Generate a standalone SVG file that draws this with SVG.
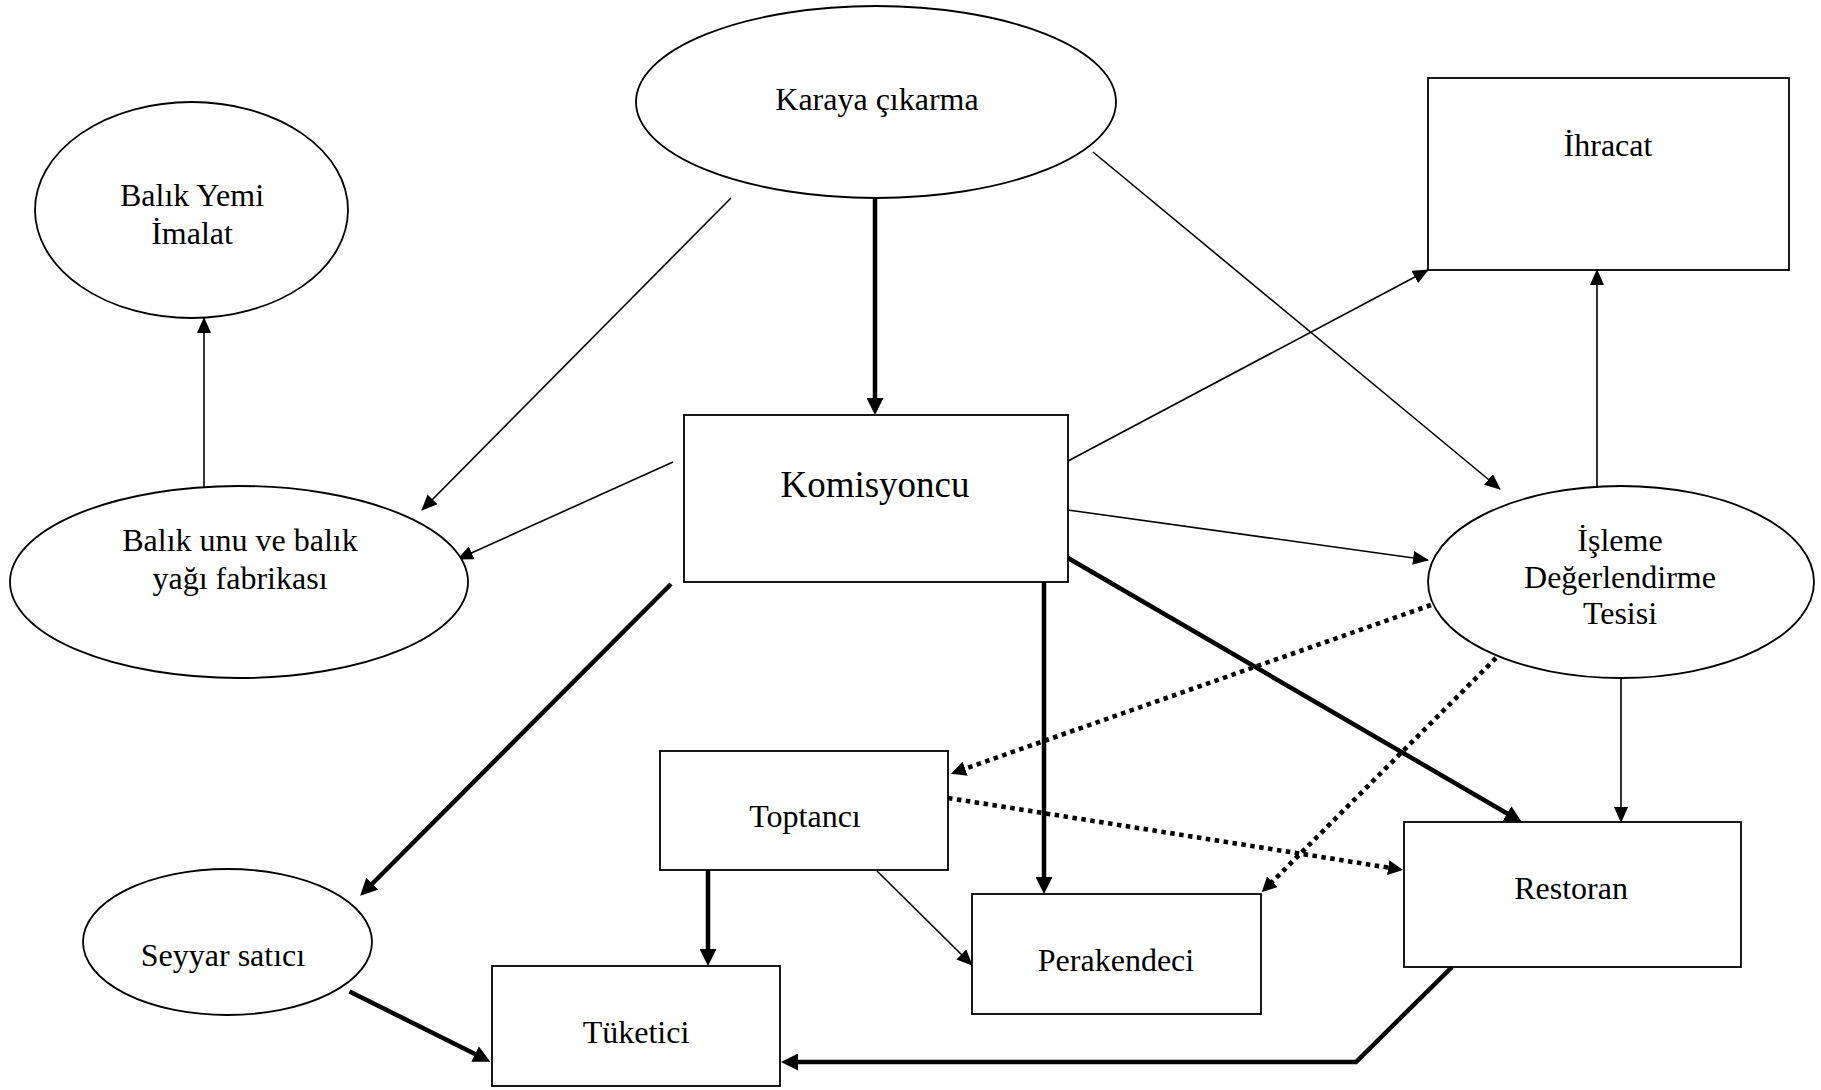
<svg xmlns="http://www.w3.org/2000/svg" width="1821" height="1090" viewBox="0 0 1821 1090">
<defs>
<style>
.node{fill:#fff;stroke:#000;stroke-width:1.8}
.lbl{font-family:"Liberation Serif","Times New Roman",serif;font-size:32px;fill:#000;text-anchor:middle}
.big{font-size:37px}
.thin{fill:none;stroke:#000;stroke-width:1.6}
.thick{fill:none;stroke:#000;stroke-width:4.5}
.dot{fill:none;stroke:#000;stroke-width:4.6;stroke-dasharray:4.5 4.5}
</style>
<marker id="ah" markerUnits="userSpaceOnUse" markerWidth="16" markerHeight="14" refX="15" refY="7" orient="auto" viewBox="0 0 16 14">
<path d="M0,0 L16,7 L0,14 z" fill="#000"/>
</marker>
<marker id="ahb" markerUnits="userSpaceOnUse" markerWidth="17" markerHeight="17" refX="1" refY="8.5" orient="auto" viewBox="0 0 17 17">
<path d="M0,0 L17,8.5 L0,17 z" fill="#000"/>
</marker>
<marker id="ahd" markerUnits="userSpaceOnUse" markerWidth="15" markerHeight="15" refX="1" refY="7.5" orient="auto" viewBox="0 0 15 15">
<path d="M0,0 L15,7.5 L0,15 z" fill="#000"/>
</marker>
</defs>
<rect width="1821" height="1090" fill="#fff"/>

<g id="connectors">
<line class="thick" x1="875" y1="198" x2="875" y2="399" marker-end="url(#ahb)"/>
<line class="thin" x1="731" y1="198" x2="422" y2="510" marker-end="url(#ah)"/>
<line class="thin" x1="1093" y1="152" x2="1500" y2="489" marker-end="url(#ah)"/>
<line class="thin" x1="673" y1="462" x2="458" y2="559" marker-end="url(#ah)"/>
<line class="thin" x1="204" y1="487" x2="204" y2="318" marker-end="url(#ah)"/>
<line class="thin" x1="1068" y1="461" x2="1428" y2="270" marker-end="url(#ah)"/>
<line class="thin" x1="1068" y1="510" x2="1428" y2="560" marker-end="url(#ah)"/>
<line class="thin" x1="1597" y1="486" x2="1597" y2="270" marker-end="url(#ah)"/>
<line class="thick" x1="1068" y1="558" x2="1508" y2="814" marker-end="url(#ahb)"/>
<line class="thick" x1="1044" y1="582" x2="1044" y2="878" marker-end="url(#ahb)"/>
<line class="thick" x1="671" y1="584" x2="371.5" y2="884.5" marker-end="url(#ahb)"/>
<line class="dot" x1="1431" y1="605" x2="964.2" y2="769" marker-end="url(#ahd)"/>
<line class="dot" x1="1496" y1="658" x2="1271.6" y2="882.4" marker-end="url(#ahd)"/>
<line class="dot" x1="948" y1="798" x2="1389.2" y2="867.7" marker-end="url(#ahd)"/>
<line class="thin" x1="1621" y1="678" x2="1621" y2="822" marker-end="url(#ah)"/>
<line class="thick" x1="708" y1="870" x2="708" y2="950" marker-end="url(#ahb)"/>
<line class="thin" x1="877" y1="871" x2="972" y2="965" marker-end="url(#ah)"/>
<line class="thick" x1="349.5" y1="991.5" x2="476" y2="1054.5" marker-end="url(#ahb)"/>
<polyline class="thick" points="1452,967 1356,1062 797,1062" marker-end="url(#ahb)"/>
</g>

<g id="karaya">
<ellipse class="node" cx="876" cy="102" rx="240" ry="96"/>
<text class="lbl" x="877" y="110">Karaya çıkarma</text>
</g>
<g id="balik-yemi">
<ellipse class="node" cx="191.5" cy="210" rx="156.5" ry="108"/>
<text class="lbl" x="192" y="206">Balık Yemi</text>
<text class="lbl" x="192" y="244">İmalat</text>
</g>
<g id="balik-unu">
<ellipse class="node" cx="239" cy="582" rx="229" ry="96"/>
<text class="lbl" x="240" y="551">Balık unu ve balık</text>
<text class="lbl" x="240" y="589">yağı fabrikası</text>
</g>
<g id="komisyoncu">
<rect class="node" x="684" y="415" width="384" height="167"/>
<text class="lbl big" x="875" y="497">Komisyoncu</text>
</g>
<g id="ihracat">
<rect class="node" x="1428" y="78" width="361" height="192"/>
<text class="lbl" x="1608" y="156">İhracat</text>
</g>
<g id="isleme">
<ellipse class="node" cx="1621" cy="582" rx="193" ry="96"/>
<text class="lbl" x="1620" y="551">İşleme</text>
<text class="lbl" x="1620" y="588">Değerlendirme</text>
<text class="lbl" x="1620" y="624">Tesisi</text>
</g>
<g id="toptanci">
<rect class="node" x="660" y="751" width="288" height="119"/>
<text class="lbl" x="805" y="827">Toptancı</text>
</g>
<g id="seyyar">
<ellipse class="node" cx="227.5" cy="942" rx="144.5" ry="73"/>
<text class="lbl" x="223" y="966">Seyyar satıcı</text>
</g>
<g id="tuketici">
<rect class="node" x="492" y="966" width="288" height="120"/>
<text class="lbl" x="636" y="1043">Tüketici</text>
</g>
<g id="perakendeci">
<rect class="node" x="972" y="894" width="289" height="120"/>
<text class="lbl" x="1116" y="971">Perakendeci</text>
</g>
<g id="restoran">
<rect class="node" x="1404" y="822" width="337" height="145"/>
<text class="lbl" x="1571" y="899">Restoran</text>
</g>
</svg>
